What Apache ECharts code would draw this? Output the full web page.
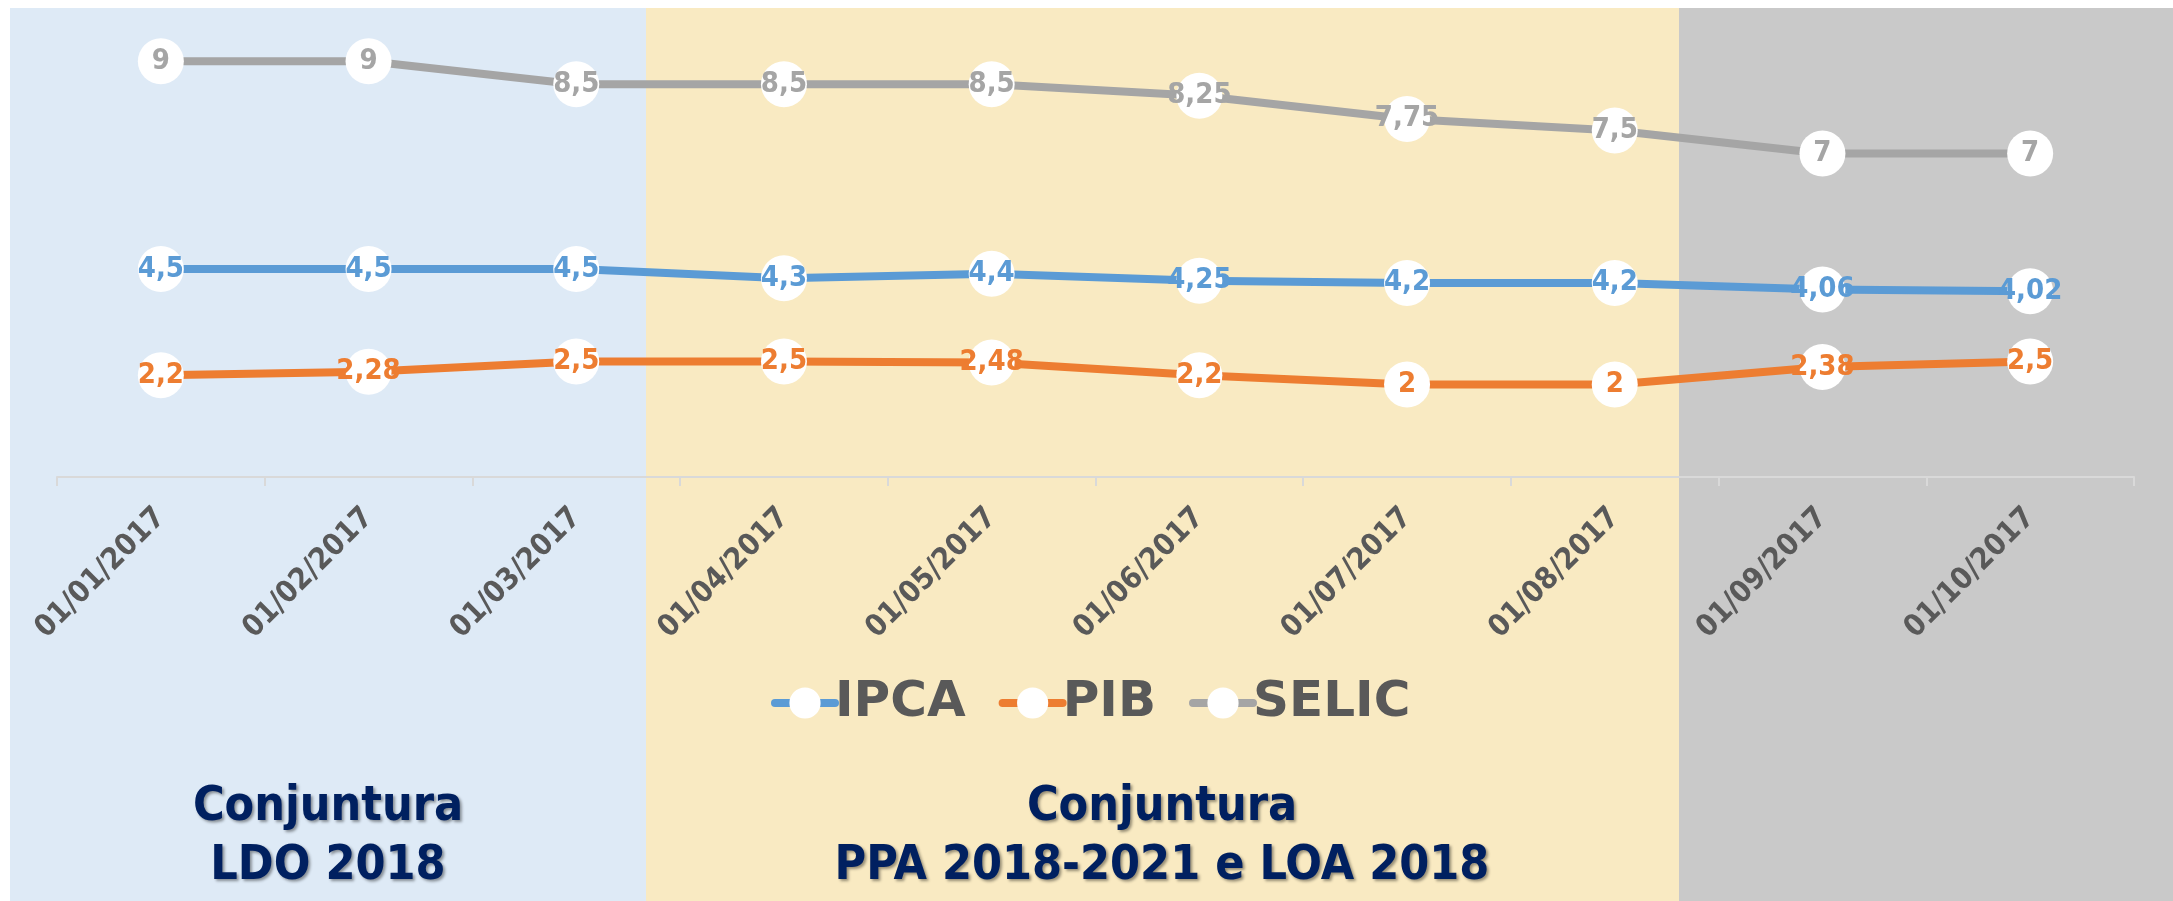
<!DOCTYPE html>
<html>
<head>
<meta charset="utf-8">
<script src="https://cdn.jsdelivr.net/npm/echarts@6/dist/echarts.min.js"></script>
<style>
html,body{margin:0;padding:0;background:#ffffff;}
#chart{width:2173px;height:901px;}
</style>
</head>
<body>
<div id="chart"></div>
<script>
const categories = ['01/01/2017','01/02/2017','01/03/2017','01/04/2017','01/05/2017','01/06/2017','01/07/2017','01/08/2017','01/09/2017','01/10/2017'];
const ipca  = [4.5, 4.5, 4.5, 4.3, 4.4, 4.25, 4.2, 4.2, 4.06, 4.02];
const pib   = [2.2, 2.28, 2.5, 2.5, 2.48, 2.2, 2, 2, 2.38, 2.5];
const selic = [9, 9, 8.5, 8.5, 8.5, 8.25, 7.75, 7.5, 7, 7];
const seriesNames = ['IPCA', 'PIB', 'SELIC'];
const panelTitles = ['Conjuntura\nLDO 2018', 'Conjuntura\nPPA 2018-2021 e LOA 2018'];

const FONT = '"DejaVu Sans", Verdana, sans-serif';
const CFONT = '"DejaVu Sans Condensed", "DejaVu Sans", sans-serif';
const colors = ['#5B9BD5', '#ED7D31', '#A5A5A5'];

function mkSeries(name, data, color) {
  return {
    name: name,
    type: 'line',
    data: data,
    symbol: 'circle',
    symbolSize: 46,
    itemStyle: { color: '#ffffff', borderWidth: 0 },
    lineStyle: { color: color, width: 8 },
    label: {
      show: true,
      position: 'inside',
      color: color,
      fontFamily: CFONT,
      fontWeight: 'bold',
      fontSize: 29,
      formatter: p => String(p.value).replace('.', ',')
    },
    emphasis: { disabled: true },
    animation: false
  };
}

const chart = echarts.init(document.getElementById('chart'));
const option = {
  backgroundColor: '#ffffff',
  animation: false,
  grid: { left: 57, right: 39, top: 15, bottom: 424, containLabel: false },
  xAxis: {
    type: 'category',
    data: categories,
    boundaryGap: true,
    axisLine: { lineStyle: { color: '#d9d9d9', width: 2 } },
    axisTick: { show: true, length: 9, lineStyle: { color: '#d9d9d9', width: 2 } },
    axisLabel: {
      rotate: 45,
      margin: 36,
      color: '#595959',
      fontFamily: CFONT,
      fontWeight: 'bold',
      fontSize: 30
    },
    splitLine: { show: false }
  },
  yAxis: {
    type: 'value', min: 0, max: 10, show: false, splitLine: { show: false }
  },
  legend: {
    data: seriesNames,
    left: 766,
    top: 673,
    itemWidth: 60,
    itemHeight: 39,
    itemGap: 33,
    lineStyle: { width: 8, cap: 'round' },
    textStyle: { color: '#595959', fontFamily: FONT, fontWeight: 'bold', fontSize: 50, padding: [0,0,0,-5] },
    selectedMode: false
  },
  graphic: [
    { type: 'rect', z: -100, silent: true, shape: { x: 10, y: 8, width: 636, height: 893 }, style: { fill: '#DEEAF6' } },
    { type: 'rect', z: -100, silent: true, shape: { x: 646, y: 8, width: 1033, height: 893 }, style: { fill: '#F9EAC2' } },
    { type: 'rect', z: -100, silent: true, shape: { x: 1679, y: 8, width: 494, height: 893 }, style: { fill: '#C9C9C9' } },
    { type: 'text', z: 10, silent: true, x: 328, y: 778,
      style: { text: panelTitles[0], textAlign: 'center', textVerticalAlign: 'top', fill: '#002060',
        font: 'bold 48px ' + CFONT, lineHeight: 59,
        textShadowColor: 'rgba(0,0,0,0.4)', textShadowBlur: 3, textShadowOffsetX: 2, textShadowOffsetY: 2 } },
    { type: 'text', z: 10, silent: true, x: 1162, y: 778,
      style: { text: panelTitles[1], textAlign: 'center', textVerticalAlign: 'top', fill: '#002060',
        font: 'bold 48px ' + CFONT, lineHeight: 59,
        textShadowColor: 'rgba(0,0,0,0.4)', textShadowBlur: 3, textShadowOffsetX: 2, textShadowOffsetY: 2 } }
  ],
  series: [
    mkSeries(seriesNames[0], ipca, colors[0]),
    mkSeries(seriesNames[1], pib, colors[1]),
    mkSeries(seriesNames[2], selic, colors[2])
  ]
};
chart.setOption(option);
</script>
</body>
</html>
